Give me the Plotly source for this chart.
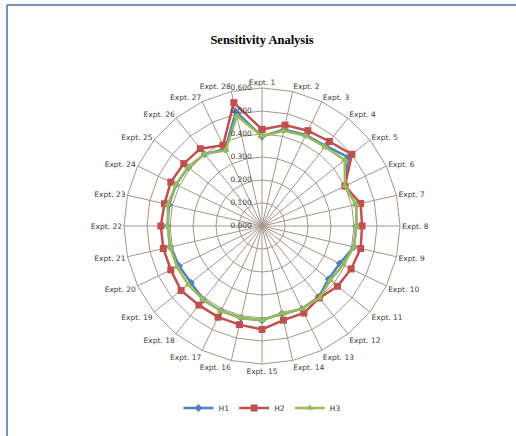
import plotly.graph_objects as go

# Category labels around the radar
experiments = [f"Expt. {i}" for i in range(1, 29)]

# Series values for each experiment
h1 = [0.390, 0.430, 0.440, 0.445, 0.480, 0.400, 0.420, 0.410, 0.410, 0.375,
      0.370, 0.395, 0.400, 0.390, 0.410, 0.410, 0.410, 0.410, 0.395, 0.400,
      0.410, 0.410, 0.415, 0.415, 0.410, 0.400, 0.370, 0.510]
h2 = [0.420, 0.450, 0.460, 0.470, 0.500, 0.400, 0.440, 0.435, 0.440, 0.430,
      0.420, 0.400, 0.420, 0.420, 0.450, 0.440, 0.440, 0.440, 0.450, 0.440,
      0.440, 0.440, 0.435, 0.440, 0.435, 0.430, 0.390, 0.550]
h3 = [0.390, 0.425, 0.435, 0.440, 0.460, 0.400, 0.420, 0.410, 0.410, 0.390,
      0.380, 0.400, 0.400, 0.390, 0.410, 0.410, 0.410, 0.410, 0.410, 0.410,
      0.410, 0.410, 0.420, 0.415, 0.410, 0.400, 0.365, 0.490]

# Radial tick values
radial_ticks = [0.0, 0.1, 0.2, 0.3, 0.4, 0.5, 0.6]
radial_labels = [f"{v:.3f}" for v in radial_ticks]

series = [
    ("H1", h1, "#4F81BD", "diamond", 6),
    ("H2", h2, "#C0504D", "square", 7),
    ("H3", h3, "#9BBB59", "triangle-up", 7),
]

grid_color = "#a3968c"
text_color = "#404040"

fig = go.Figure()
for name, vals, color, symbol, msize in series:
    fig.add_trace(go.Scatterpolar(
        r=vals + vals[:1],
        theta=experiments + experiments[:1],
        mode="lines+markers",
        name=name,
        line=dict(color=color, width=2.5),
        marker=dict(symbol=symbol, size=msize, color=color),
    ))

W, H = 516, 436
cx, cy, rad = 262, 226, 138

fig.update_layout(
    width=W, height=H,
    margin=dict(l=0, r=0, t=0, b=0),
    paper_bgcolor="white",
    title=dict(
        text="<b>Sensitivity Analysis</b>",
        x=cx / W, xanchor="center",
        y=1 - 40 / H, yanchor="middle",
        font=dict(family="Liberation Serif", size=12.5, color="black"),
    ),
    font=dict(family="DejaVu Sans", size=8, color=text_color),
    polar=dict(
        domain=dict(x=[(cx - rad) / W, (cx + rad) / W],
                    y=[(H - cy - rad) / H, (H - cy + rad) / H]),
        bgcolor="white",
        gridshape="linear",
        angularaxis=dict(
            rotation=90,
            direction="clockwise",
            categoryorder="array",
            categoryarray=experiments,
            showline=True,
            linecolor=grid_color,
            linewidth=1,
            gridcolor=grid_color,
            gridwidth=1,
            ticks="",
            tickfont=dict(size=7.5, color=text_color),
        ),
        radialaxis=dict(
            range=[0, 0.6],
            tickvals=radial_ticks,
            ticktext=radial_labels,
            angle=90,
            side="counterclockwise",
            tickangle=90,
            showline=False,
            gridcolor=grid_color,
            gridwidth=1,
            ticks="outside",
            ticklen=7,
            tickcolor="rgba(0,0,0,0)",
            tickfont=dict(size=7.5, color=text_color),
        ),
    ),
    legend=dict(
        orientation="h",
        x=cx / W, xanchor="center",
        y=1 - 408 / H, yanchor="middle",
        font=dict(size=7.5, color=text_color),
    ),
    shapes=[
        dict(type="line", xref="paper", yref="paper",
             x0=7 / W, y0=1 - 5 / H, x1=1, y1=1 - 5 / H,
             line=dict(color="#4a70a8", width=1.5)),
        dict(type="line", xref="paper", yref="paper",
             x0=7 / W, y0=1 - 5 / H, x1=7 / W, y1=0,
             line=dict(color="#4a70a8", width=1.5)),
    ],
)

fig.write_html("out.html")
